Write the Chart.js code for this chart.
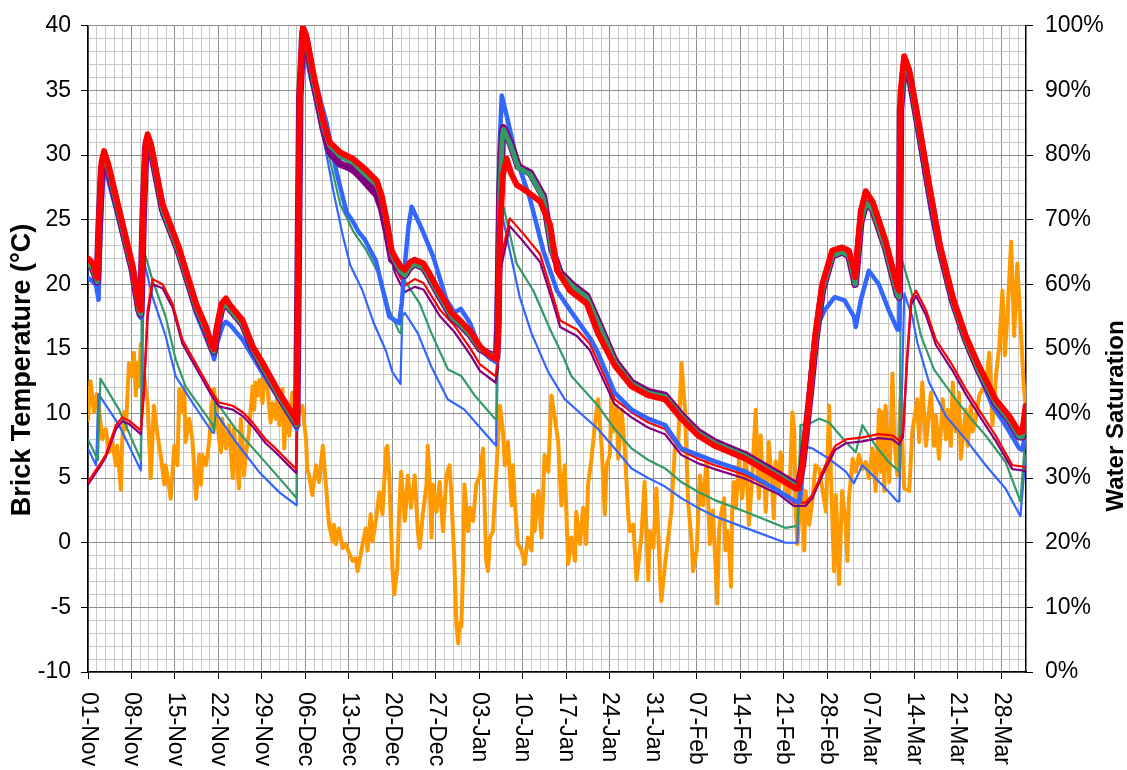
<!DOCTYPE html>
<html>
<head>
<meta charset="utf-8">
<script src="https://cdn.jsdelivr.net/npm/chart.js@4.4.0/dist/chart.umd.min.js"></script>
<style>
  html, body { margin: 0; padding: 0; background: #fff; }
  #wrap { width: 1127px; height: 770px; position: relative; }
</style>
</head>
<body>
<div id="wrap"><canvas id="brickChart"></canvas></div>
<script>
// x values are days counted from 01-Nov
const tickDays = [0, 7, 14, 21, 28, 35, 42, 49, 56, 63, 70, 77, 84, 91, 98, 105, 112, 119, 126, 133, 140, 147];
const tickLabels = ['01-Nov', '08-Nov', '15-Nov', '22-Nov', '29-Nov', '06-Dec', '13-Dec', '20-Dec', '27-Dec',
  '03-Jan', '10-Jan', '17-Jan', '24-Jan', '31-Jan', '07-Feb', '14-Feb', '21-Feb', '28-Feb',
  '07-Mar', '14-Mar', '21-Mar', '28-Mar'];

// brick temperature (left axis, degC)
const tempDays = [
  0, 0.4, 0.97, 1.4, 1.8, 2.3, 2.85, 3.4, 3.9, 4.5,
  4.7, 5.3, 5.5, 5.8, 6.1, 6.6, 7.1, 7.4, 7.7, 7.95,
  8.2, 8.5, 9.0, 9.6, 10.1, 10.6, 11.2, 11.7, 12.3, 12.5,
  13.1, 13.3, 13.9, 14.4, 14.7, 15.2, 15.5, 15.7, 16.3, 16.8,
  17.4, 17.9, 18.2, 18.4, 19.0, 19.5, 20.0, 20.3, 20.6, 21.1,
  21.4, 21.6, 22.2, 22.7, 23.3, 23.5, 24.1, 24.3, 24.6, 24.9,
  25.1, 25.4, 25.9, 26.5, 26.75, 27.0, 27.3, 27.6, 28.1, 28.4,
  28.9, 29.4, 29.7, 30.2, 30.5, 30.8, 31.3, 31.6, 31.85, 32.4,
  32.9, 33.5, 34.0, 34.5, 35.1, 35.3, 35.6, 36.1, 36.7, 37.2,
  37.8, 38.3, 38.8, 39.4, 39.6, 39.9, 40.4, 41.0, 41.5, 42.1,
  42.6, 43.1, 43.4, 43.9, 44.7, 45.0, 45.5, 45.8, 46.4, 46.9,
  47.4, 48.0, 48.2, 48.5, 48.8, 49.0, 49.3, 49.8, 50.1, 50.4,
  51.0, 51.5, 52.0, 52.6, 53.1, 53.4, 53.9, 54.5, 54.7, 55.0,
  55.3, 55.5, 56.1, 56.6, 57.15, 57.7, 58.2, 58.5, 59.0, 59.3,
  59.6, 59.8, 60.1, 60.4, 60.6, 61.2, 61.5, 62.0, 62.5, 63.1,
  63.6, 64.1, 64.4, 64.7, 65.2, 65.7, 66.3, 66.8, 67.1, 67.6,
  68.2, 68.4, 68.7, 69.2, 69.8, 70.3, 70.8, 71.4, 71.65, 71.9,
  72.5, 73.0, 73.5, 74.1, 74.6, 75.1, 75.7, 76.2, 76.75, 77.3,
  77.8, 78.4, 78.6, 79.2, 79.7, 80.2, 80.5, 81.05, 81.6, 82.1,
  82.7, 83.2, 83.5, 84.0, 84.3, 84.5, 85.1, 85.35, 85.9, 86.4,
  87.0, 87.2, 87.8, 88.3, 88.6, 89.1, 89.6, 90.2, 90.45, 91.0,
  91.5, 92.1, 92.3, 92.9, 93.4, 93.9, 94.5, 95.0, 95.55, 96.1,
  96.6, 97.2, 97.4, 98.0, 98.5, 99.0, 99.6, 100.1, 100.6, 101.3,
  101.6, 101.8, 102.4, 102.6, 102.9, 103.2, 103.5, 103.7, 104.0, 104.3,
  104.8, 105.3, 105.9, 106.4, 106.9, 107.5, 107.75, 108.0, 108.3, 108.6,
  108.8, 109.1, 109.6, 110.2, 110.4, 110.7, 111.2, 111.5, 111.8, 112.3,
  112.9, 113.4, 113.7, 113.9, 114.2, 114.5, 115.0, 115.3, 115.5, 116.1,
  116.6, 117.1, 117.7, 118.2, 118.8, 119.3, 119.6, 120.1, 120.4, 120.9,
  121.4, 122.0, 122.25, 122.5, 123.1, 123.6, 124.1, 124.7, 125.2, 125.7,
  126.3, 126.8, 127.35, 127.6, 127.9, 128.2, 128.4, 129.0, 129.5, 129.8,
  130.3, 130.8, 131.4, 132.2, 132.7, 133.5, 133.8, 134.3, 134.9, 135.4,
  135.7, 136.2, 136.5, 137.0, 137.6, 138.1, 138.4, 138.9, 139.2, 139.7,
  140.2, 140.5, 141.3, 141.6, 142.1, 142.4, 142.9, 143.5, 144.0, 144.5,
  145.1, 145.6, 146.2, 146.7, 147.2, 147.6, 148.0, 148.6, 149.1, 149.6,
  150.2, 150.6, 150.95
];
const tempValues = [
  9.5, 12.5, 10.1, 11.5, 10.3, 8.0, 8.8, 7.0, 7.8, 6.0,
  7.5, 4.1, 7.8, 10.1, 8.8, 13.9, 12.9, 14.7, 11.4, 13.9,
  12.1, 15.4, 12.9, 10.8, 5.0, 10.6, 8.3, 6.8, 4.5, 6.0,
  4.2, 3.4, 7.5, 6.0, 11.9, 10.1, 12.1, 7.8, 9.6, 8.0,
  3.4, 6.8, 4.5, 6.8, 6.0, 7.8, 10.8, 11.9, 10.6, 8.0,
  7.0, 9.6, 7.3, 9.1, 5.0, 8.8, 5.7, 4.2, 9.6, 7.3,
  5.2, 6.8, 8.5, 12.1, 10.3, 12.4, 11.4, 12.6, 10.8, 13.7,
  11.9, 9.3, 10.8, 9.6, 11.6, 9.1, 11.9, 7.3, 10.3, 8.3,
  11.6, 9.1, 10.1, 10.6, 8.0, 5.7, 5.2, 3.7, 6.0, 4.7,
  7.5, 4.5, 1.4, 0.1, 1.4, -0.1, 1.1, -0.4, -0.1, -0.9,
  -1.4, -1.2, -2.2, -0.9, 1.1, -0.6, 2.2, 0.1, 1.9, 3.9,
  2.2, 7.3, 7.5, 5.2, 1.1, -1.9, -4.0, -1.9, 2.5, 5.5,
  1.7, 5.2, 2.7, 5.2, 0.9, -0.4, 2.2, 4.5, 7.5, 4.7,
  0.4, 4.5, 2.4, 4.7, 0.9, 5.2, 6.0, 3.7, -1.65, -6.25,
  -7.8, -6.25, -6.5, -1.65, 4.5, 0.9, 2.7, 1.7, 4.5, 5.2,
  7.3, -1.4, -2.2, 0.4, 0.9, 5.2, 10.6, 8.6, 6.0, 7.8,
  2.9, 6.0, 3.2, -0.1, -0.6, -1.65, 0.4, -0.6, 3.7, 0.9,
  4.0, 0.4, 6.8, 5.5, 11.4, 9.8, 7.8, 2.9, 6.0, -1.65,
  0.4, -1.4, 2.4, -0.1, 2.7, -0.1, 4.5, 6.5, 9.1, 11.1,
  7.3, 2.2, 6.0, 6.8, 11.6, 8.6, 10.6, 6.5, 10.3, 7.3,
  1.9, 0.9, 1.4, -2.9, -1.65, 0.6, 4.7, -2.9, 0.9, -0.4,
  4.2, -2.7, -4.5, -1.65, 0.4, 2.4, 7.5, 7.5, 13.9, 10.3,
  3.2, -0.1, -2.2, -0.6, 5.2, 2.9, 6.5, -0.1, 2.5, -4.7,
  0.9, 1.9, 3.45, -0.6, 0.9, -0.1, -3.4, 2.4, 4.7, 2.7,
  6.5, 3.45, 7.0, 1.4, 5.0, 10.3, 6.0, 3.45, 8.3, 4.5,
  6.0, 2.4, 7.8, 3.7, 1.9, 6.3, 4.0, 7.0, 5.0, 4.2,
  3.45, 10.1, 8.6, 2.7, -0.1, 1.9, 4.2, -0.6, 4.0, 1.4,
  3.2, 6.0, 5.7, 4.2, 2.4, 10.6, 5.2, -2.2, 3.7, -3.2,
  4.0, 1.4, -1.4, 3.45, 6.5, 5.5, 6.8, 5.7, 6.25, 5.0,
  7.3, 4.0, 10.3, 5.5, 10.1, 4.0, 10.6, 4.7, 13.1, 8.0,
  5.2, 11.1, 4.2, 4.0, 8.6, 11.1, 7.8, 12.4, 7.5, 10.3,
  11.6, 7.5, 9.8, 6.5, 11.1, 8.0, 10.3, 7.5, 12.4, 8.6,
  11.6, 6.5, 10.3, 7.5, 10.6, 8.6, 9.6, 11.4, 11.9, 12.1,
  14.7, 9.1, 13.1, 15.2, 19.5, 14.5, 17.5, 23.3, 16.0, 21.6,
  16.2, 12.5, 10.5
];

// water saturation (right axis, %)
const redDays = [
  0, 0.8, 1.5, 1.8, 2.2, 2.6, 3.2, 5.0, 7.15, 8.2,
  8.5, 8.9, 9.3, 9.6, 10.1, 12.0, 14.6, 17.4, 19.0, 20.0,
  20.3, 20.8, 21.5, 22.2, 23.0, 24.9, 26.5, 28.0, 30.9, 33.4,
  33.6, 33.8, 34.1, 34.6, 35.1, 36.2, 37.9, 38.9, 40.6, 42.7,
  44.85, 46.5, 47.3, 48.1, 48.9, 49.4, 50.3, 51.0, 51.8, 52.6,
  54.0, 55.0, 56.1, 57.7, 58.5, 59.9, 61.5, 63.1, 64.6, 65.8,
  66.0, 66.3, 66.8, 67.4, 68.1, 69.0, 70.6, 72.8, 74.4, 75.5,
  77.6, 80.3, 82.1, 84.8, 87.5, 90.2, 92.9, 95.5, 98.2, 100.9,
  105.85, 111.2, 113.9, 114.4, 115.0, 116.1, 117.1, 118.2, 119.8, 121.4,
  122.5, 123.3, 123.5, 124.4, 125.2, 126.3, 128.4, 130.3, 130.6, 130.8,
  131.4, 132.2, 133.8, 135.4, 137.1, 139.2, 141.3, 143.4, 146.1, 148.3,
  149.9, 150.4, 150.95
];
const redSat = [
  64.0, 63.2, 61.0, 70, 79, 80.6, 78.8, 71.6, 63.0, 56.8,
  56.0, 72, 82, 83.2, 81.8, 72.4, 65.8, 57.0, 53.4, 50.4,
  50.0, 53.6, 57.0, 57.8, 56.6, 54.4, 50.4, 48.0, 43.0, 39.2,
  38.6, 60, 90, 99.8, 98.6, 93.0, 85.2, 82.0, 80.4, 79.4,
  77.6, 76.0, 73.6, 69.8, 65.2, 64.2, 62.8, 62.2, 63.4, 63.8,
  63.2, 61.6, 59.6, 57.0, 55.6, 54.4, 52.8, 50.4, 49.0, 48.4,
  52, 68, 77, 79.4, 77.2, 75.4, 74.4, 72.8, 69.2, 62.2,
  59.0, 57.0, 52.4, 47.4, 44.2, 42.8, 42.2, 39.2, 36.6, 35.0,
  33.0, 30.0, 28.4, 28.4, 32.0, 42.2, 52.4, 60.0, 65.2, 65.7,
  65.2, 62.2, 61.1, 71.3, 74.4, 72.8, 66.7, 59.6, 59.0, 89.6,
  95.3, 93.2, 84.6, 75.4, 66.2, 58.0, 52.0, 47.4, 42.2, 39.6,
  37.1, 37.2, 41.2
];

const greenDays = [
  0, 0.8, 1.5, 1.8, 2.2, 2.6, 3.2, 5.0, 7.15, 8.2,
  8.5, 8.9, 9.3, 9.6, 10.1, 12.0, 14.6, 17.4, 19.0, 20.0,
  20.3, 20.8, 21.5, 22.2, 23.0, 24.9, 26.5, 28.0, 30.9, 33.4,
  33.6, 33.8, 34.1, 34.6, 35.1, 36.2, 37.9, 38.9, 40.6, 42.7,
  44.85, 46.5, 47.3, 48.1, 48.9, 49.4, 50.3, 51.0, 51.8, 52.6,
  54.0, 55.0, 56.1, 57.7, 58.5, 59.9, 61.5, 63.1, 64.6, 65.8,
  66.0, 66.3, 66.7, 66.9, 68.0, 69.3, 71.2, 73.3, 74.7, 76.0,
  78.1, 80.3, 82.4, 84.8, 87.5, 90.2, 92.9, 95.5, 98.2, 100.9,
  105.85, 111.2, 113.9, 114.4, 115.0, 116.1, 117.1, 118.2, 119.8, 121.4,
  122.5, 123.3, 123.5, 124.4, 125.2, 126.3, 128.4, 130.3, 130.6, 130.8,
  131.4, 132.2, 133.8, 135.4, 137.1, 139.2, 141.3, 143.4, 146.1, 148.3,
  149.9, 150.4, 150.95
];
const greenSat = [
  63.2, 62.4, 60.4, 69.0, 78.0, 79.6, 78.0, 70.8, 62.2, 56.0,
  55.4, 71.0, 81.2, 82.4, 81.0, 71.6, 65.0, 56.4, 52.8, 50.0,
  49.6, 53.0, 56.2, 57.0, 56.0, 53.8, 50.0, 47.4, 42.4, 38.6,
  38.2, 59.0, 89.0, 99.0, 98.0, 92.0, 84.4, 81.5, 79.8, 78.8,
  76.8, 75.4, 73.0, 69.2, 64.6, 63.6, 62.0, 61.4, 62.6, 63.2,
  62.6, 61.0, 59.0, 56.4, 55.0, 53.8, 52.2, 50.0, 49.2, 48.8,
  54.0, 74.0, 83.0, 84.0, 81.6, 78.0, 77.0, 73.4, 65.2, 61.6,
  59.6, 58.0, 53.4, 48.0, 44.6, 43.2, 42.6, 39.6, 37.0, 35.4,
  33.4, 30.4, 28.8, 28.8, 32.0, 41.6, 51.0, 59.0, 64.4, 65.0,
  64.4, 61.0, 60.0, 69.6, 72.6, 71.6, 65.6, 58.4, 58.0, 87.0,
  94.0, 92.4, 83.6, 74.6, 65.6, 57.4, 51.4, 46.6, 41.6, 39.0,
  36.4, 36.4, 39.4
];
// purple series shares the green time stamps
const purpleSat = [
  63.2, 62.4, 60.4, 69.0, 78.0, 79.6, 78.0, 70.8, 62.2, 56.0,
  55.4, 71.0, 81.2, 82.4, 81.0, 71.6, 65.0, 56.4, 52.8, 50.0,
  49.6, 53.0, 56.2, 57.0, 56.0, 53.8, 50.0, 47.4, 42.4, 38.6,
  38.2, 59.0, 89.0, 99.0, 98.0, 92.0, 84.0, 80.5, 78.6, 77.8,
  75.6, 73.8, 71.6, 68.0, 63.8, 63.4, 62.0, 61.4, 62.6, 63.2,
  62.6, 61.0, 59.0, 56.4, 55.0, 53.8, 52.2, 50.0, 49.2, 48.8,
  54.0, 74.0, 83.2, 84.2, 81.8, 78.2, 77.2, 73.6, 65.4, 61.8,
  59.8, 58.2, 53.6, 48.2, 44.8, 43.4, 42.8, 39.8, 37.2, 35.6,
  33.6, 30.6, 29.0, 29.0, 32.0, 41.6, 51.0, 59.0, 64.4, 65.0,
  64.4, 61.0, 60.0, 69.6, 72.6, 71.6, 65.6, 58.4, 58.0, 87.0,
  94.0, 92.4, 83.6, 74.6, 65.6, 57.4, 51.4, 46.6, 41.6, 39.0,
  36.4, 36.4, 39.4
];

const blueDays = [
  0, 0.8, 1.3, 1.7, 2.0, 2.4, 2.8, 3.3, 5.0, 7.15,
  8.2, 8.5, 8.9, 9.3, 9.6, 10.1, 12.0, 14.7, 17.4, 20.0,
  20.3, 20.8, 21.7, 22.2, 23.0, 24.9, 28.0, 30.9, 33.4, 33.6,
  33.8, 34.1, 34.6, 35.1, 36.2, 38.4, 40.0, 41.6, 42.6, 43.5,
  44.5, 46.35, 47.5, 48.5, 50.1, 50.5, 51.0, 51.6, 52.1, 53.9,
  55.6, 57.7, 59.0, 60.0, 61.5, 63.1, 64.6, 65.6, 65.9, 66.2,
  66.6, 67.4, 69.0, 71.1, 73.3, 75.5, 77.6, 81.0, 82.1, 84.8,
  87.5, 90.2, 92.9, 95.5, 98.2, 100.9, 105.85, 111.2, 113.9, 114.6,
  115.5, 116.5, 117.6, 118.6, 120.2, 121.8, 123.3, 123.6, 124.4, 125.7,
  127.3, 128.9, 130.3, 130.6, 130.9, 131.4, 132.2, 133.8, 135.9, 138.1,
  140.8, 142.4, 145.6, 147.7, 149.9, 150.4, 150.95
];
const blueSat = [
  61.0, 60.4, 59.8, 57.6, 68, 76, 77.4, 76.0, 69.8, 61.6,
  55.2, 54.8, 72, 81, 82.4, 80.6, 70.8, 64.6, 55.5, 49.4,
  48.4, 51.0, 53.6, 54.2, 53.6, 51.4, 46.4, 42.0, 38.0, 37.6,
  60, 88, 98.6, 97.6, 92.8, 85.0, 77.4, 71.2, 69.8, 68.2,
  67.0, 63.6, 59.0, 55.0, 54.0, 57.0, 63.0, 69.0, 72.0, 68.2,
  64.2, 57.6, 55.6, 56.2, 54.0, 50.0, 48.6, 48.0, 60, 80,
  89.2, 86.1, 79.4, 73.4, 65.2, 59.0, 56.0, 51.4, 49.4, 43.2,
  40.6, 39.2, 38.2, 34.6, 33.6, 32.6, 31.0, 28.0, 26.4, 26.4,
  36, 48, 54.0, 56.0, 58.0, 57.5, 55.0, 53.4, 57.5, 62.1,
  60.0, 56.0, 53.0, 53.0, 86, 93.8, 92.0, 82.6, 70.2, 61.1,
  52.4, 48.4, 41.2, 38.2, 34.6, 34.4, 37.1
];

const thinRedDays = [
  0, 1.8, 2.85, 4.5, 5.5, 6.6, 8.5, 9.0, 9.6, 10.4,
  12.0, 13.6, 15.2, 17.9, 20.0, 21.1, 23.3, 24.9, 26.5, 28.6,
  30.2, 31.85, 33.5, 33.8, 34.2, 34.7, 36.2, 38.9, 43.2, 46.5,
  48.1, 49.4, 50.3, 51.0, 52.6, 54.0, 56.7, 59.0, 61.6, 63.1,
  65.6, 66.0, 66.5, 67.9, 70.1, 72.8, 74.9, 76.0, 78.7, 80.8,
  82.2, 84.8, 87.5, 90.2, 92.9, 95.5, 98.2, 100.9, 105.85, 111.2,
  113.6, 115.5, 116.6, 118.7, 120.3, 122.0, 124.65, 127.3, 129.5, 130.6,
  131.2, 131.8, 132.5, 133.3, 134.9, 136.5, 139.2, 141.3, 143.4, 146.1,
  148.8, 150.4, 150.95
];
const thinRedSat = [
  29.4, 32.0, 33.6, 38.2, 39.4, 38.9, 37.4, 44, 56, 60.8,
  60.0, 57.0, 51.4, 46.8, 43.2, 41.7, 41.2, 40.2, 38.6, 36.0,
  34.6, 33.0, 31.4, 56, 88, 98.6, 91.6, 81.0, 78.0, 74.6,
  68.0, 62.8, 61.0, 59.8, 60.8, 60.2, 56.0, 53.6, 50.0, 47.6,
  45.8, 48, 64, 70.2, 67.8, 64.6, 58.0, 54.4, 53.0, 50.8,
  47.8, 42.2, 40.2, 38.6, 37.6, 34.3, 33.0, 32.0, 30.5, 28.0,
  26.2, 26.2, 27.4, 32.0, 35.0, 36.0, 36.3, 36.8, 36.6, 35.8,
  37.0, 48, 57.6, 59.0, 56.0, 51.4, 47.4, 43.8, 40.6, 36.6,
  32.0, 31.8, 31.6
];
// thin purple shares the thin red time stamps
const thinPurpleSat = [
  29.0, 31.6, 33.2, 37.6, 38.8, 38.4, 36.8, 43, 55, 60.0,
  59.4, 56.4, 50.8, 46.2, 42.6, 41.1, 40.6, 39.6, 38.0, 35.4,
  34.0, 32.4, 30.8, 55, 87, 98.0, 90.6, 79.8, 76.8, 73.4,
  67.0, 61.8, 60.0, 58.8, 59.6, 59.2, 55.0, 52.6, 49.0, 46.6,
  44.8, 47, 62.6, 69.0, 66.6, 63.4, 57.0, 53.4, 52.0, 49.8,
  46.8, 41.4, 39.4, 37.8, 36.8, 33.6, 32.3, 31.4, 29.9, 27.5,
  25.7, 25.7, 26.9, 31.4, 34.4, 35.4, 35.7, 36.2, 36.0, 35.2,
  36.4, 47, 56.8, 58.2, 55.2, 50.6, 46.6, 43.0, 39.8, 35.8,
  31.4, 31.2, 31.0
];

const thinGreenDays = [
  0, 1.6, 2.0, 5.0, 8.5, 8.76, 10.4, 12.5, 14.1, 15.7,
  20.0, 20.3, 20.5, 23.8, 27.5, 30.8, 33.6, 33.8, 34.2, 34.6,
  35.3, 37.9, 40.6, 42.7, 44.85, 47.0, 48.5, 50.1, 50.4, 50.7,
  53.4, 55.3, 57.95, 60.1, 62.25, 65.5, 65.8, 66.3, 66.9, 69.0,
  71.7, 74.4, 76.5, 77.8, 82.1, 84.8, 87.5, 90.2, 92.9, 95.5,
  98.2, 100.9, 105.85, 112.3, 114.2, 114.7, 116.1, 117.7, 119.3, 122.0,
  123.6, 124.65, 126.8, 128.9, 130.6, 130.9, 132.5, 134.1, 136.2, 139.2,
  141.8, 144.5, 147.7, 150.1, 150.95
];
const thinGreenSat = [
  36.0, 32.8, 45.4, 40.6, 32.8, 66.0, 60.6, 55.0, 48.4, 44.2,
  38.4, 37.2, 42.0, 37.6, 33.6, 30.0, 26.9, 60, 92, 97.6,
  94.0, 83.6, 72.4, 68.2, 65.2, 61.2, 56.0, 52.6, 52.4, 61.0,
  57.0, 52.4, 46.8, 45.8, 42.8, 39.2, 39.2, 64, 72.0, 63.2,
  59.0, 53.0, 48.8, 45.8, 41.2, 37.6, 34.6, 32.8, 31.5, 29.4,
  27.9, 26.6, 24.8, 22.3, 22.6, 38.2, 38.4, 39.2, 38.6, 35.6,
  34.0, 38.2, 35.0, 32.5, 31.0, 64.2, 59.0, 52.0, 46.8, 42.8,
  39.6, 36.6, 32.5, 26.4, 37.1
];

const thinBlueDays = [
  0, 1.3, 1.7, 5.0, 8.5, 9.0, 10.4, 12.5, 14.1, 16.8,
  20.0, 20.3, 20.5, 23.8, 27.5, 30.8, 33.6, 33.8, 34.2, 34.6,
  36.25, 37.9, 39.5, 41.0, 42.2, 44.2, 46.0, 48.0, 49.0, 50.3,
  50.6, 51.0, 53.1, 55.2, 57.9, 60.6, 63.3, 65.7, 65.9, 66.6,
  67.9, 69.5, 71.4, 74.1, 76.75, 82.1, 84.8, 87.5, 90.2, 92.9,
  95.5, 98.2, 100.9, 105.85, 112.3, 114.2, 114.7, 116.6, 119.3, 122.0,
  123.3, 124.65, 126.25, 128.4, 130.3, 130.6, 131.4, 132.7, 133.5, 135.4,
  138.1, 141.3, 144.5, 147.7, 150.1, 150.95
];
const thinBlueSat = [
  34.6, 32.0, 43.0, 38.2, 31.2, 63.6, 58.0, 52.0, 45.8, 41.7,
  37.1, 37.0, 40.2, 35.6, 31.0, 27.8, 25.8, 60, 90, 96.6,
  89.6, 82.6, 74.4, 67.6, 63.0, 59.0, 54.0, 49.6, 46.4, 44.6,
  55.0, 55.6, 52.4, 47.4, 42.2, 40.6, 37.6, 35.0, 60, 71.0,
  65.2, 58.0, 52.4, 46.4, 42.2, 37.6, 34.6, 31.5, 30.0, 28.7,
  26.9, 25.4, 24.1, 22.3, 20.0, 20.0, 35.0, 34.6, 33.0, 31.0,
  29.2, 32.0, 30.5, 28.4, 26.4, 26.4, 58.6, 55.0, 51.0, 44.8,
  39.6, 36.0, 32.0, 28.4, 24.1, 33.6
];

// grid: x minor every 1.4 days, major every 7; y minor every 1, major every 5
const xGrid = Array.from({ length: 108 }, (_, i) => Math.round(i * 14) / 10);
const yGrid = Array.from({ length: 51 }, (_, i) => i - 10);
const y1Grid = [0, 10, 20, 30, 40, 50, 60, 70, 80, 90, 100];

const FONT = 'Arial, "Liberation Sans", Helvetica, sans-serif';
const MAJOR = '#8e8e8e';
const MINOR = '#c8c8c8';
const isWeek = v => Math.abs(v / 7 - Math.round(v / 7)) < 1e-6;

const pts = (xs, ys) => xs.map((x, i) => ({ x: x, y: ys[i] }));

function line(label, xs, ys, color, width, axis) {
  return {
    label: label,
    data: pts(xs, ys),
    yAxisID: axis,
    borderColor: color,
    borderWidth: width,
    pointRadius: 0,
    tension: 0,
    fill: false,
    borderJoinStyle: 'round',
    borderCapStyle: 'round'
  };
}

// x tick labels (rotated clockwise) and both axis titles
const labelPlugin = {
  id: 'extraLabels',
  afterDraw(chart) {
    const ctx = chart.ctx;
    const xs = chart.scales.x;
    ctx.save();
    ctx.fillStyle = '#000';
    ctx.font = '23px ' + FONT;
    ctx.textAlign = 'left';
    ctx.textBaseline = 'middle';
    tickDays.forEach((d, i) => {
      ctx.save();
      ctx.translate(xs.getPixelForValue(d), xs.top + 20);
      ctx.rotate(Math.PI / 2);
      ctx.fillText(tickLabels[i], 0, 0);
      ctx.restore();
    });

    ctx.textAlign = 'center';
    ctx.font = 'bold 27px ' + FONT;
    ctx.save();
    ctx.translate(23, 370);
    ctx.rotate(-Math.PI / 2);
    ctx.fillText('Brick Temperature (\u00B0C)', 0, 0);
    ctx.restore();

    ctx.font = 'bold 24px ' + FONT;
    ctx.save();
    ctx.translate(1116, 416);
    ctx.rotate(-Math.PI / 2);
    ctx.fillText('Water Saturation', 0, 0);
    ctx.restore();
    ctx.restore();
  }
};

const ctx = document.getElementById('brickChart').getContext('2d');

const brickChart = new Chart(ctx, {
  type: 'line',
  data: {
    datasets: [
      line('Saturation A', redDays, redSat, '#FF0000', 6, 'y1'),
      line('Saturation B', greenDays, greenSat, '#339966', 5, 'y1'),
      line('Saturation C', greenDays, purpleSat, '#800080', 7.5, 'y1'),
      line('Saturation D', blueDays, blueSat, '#3366FF', 4.5, 'y1'),
      line('Saturation E', thinRedDays, thinRedSat, '#FF0000', 2.2, 'y1'),
      line('Saturation F', thinRedDays, thinPurpleSat, '#800080', 2.2, 'y1'),
      line('Saturation G', thinGreenDays, thinGreenSat, '#339966', 2.2, 'y1'),
      line('Saturation H', thinBlueDays, thinBlueSat, '#3366FF', 2.2, 'y1'),
      line('Brick Temperature', tempDays, tempValues, '#FF9900', 4, 'y')
    ]
  },
  options: {
    responsive: true,
    maintainAspectRatio: false,
    animation: false,
    layout: { padding: { top: 19, left: 0, right: 0, bottom: 0 } },
    plugins: {
      legend: { display: false },
      tooltip: { enabled: false }
    },
    scales: {
      x: {
        type: 'linear',
        min: 0,
        max: 151,
        afterBuildTicks: s => { s.ticks = xGrid.map(v => ({ value: v })); },
        afterFit: s => { s.height = 98; },
        ticks: { display: false },
        grid: {
          color: c => isWeek(c.tick.value) ? MAJOR : MINOR,
          tickColor: c => isWeek(c.tick.value) ? '#000' : 'rgba(0,0,0,0)',
          tickLength: 7,
          lineWidth: 1
        },
        border: { color: '#000', width: 1.5 }
      },
      y: {
        position: 'left',
        min: -10,
        max: 40,
        afterBuildTicks: s => { s.ticks = yGrid.map(v => ({ value: v })); },
        afterFit: s => { s.width = 88; },
        ticks: {
          autoSkip: false,
          padding: 10,
          color: '#000',
          font: { family: FONT, size: 23 },
          callback: v => (v % 5 === 0 ? String(v) : '')
        },
        grid: {
          color: c => (c.tick.value % 5 === 0 ? MAJOR : MINOR),
          tickColor: c => (c.tick.value % 5 === 0 ? '#000' : 'rgba(0,0,0,0)'),
          tickLength: 7,
          lineWidth: 1
        },
        border: { color: '#000', width: 1.5 }
      },
      y1: {
        position: 'right',
        min: 0,
        max: 100,
        afterBuildTicks: s => { s.ticks = y1Grid.map(v => ({ value: v })); },
        afterFit: s => { s.width = 101; },
        ticks: {
          autoSkip: false,
          padding: 12,
          color: '#000',
          font: { family: FONT, size: 23 },
          callback: v => v + '%'
        },
        grid: { drawOnChartArea: false, tickColor: '#000', tickLength: 7 },
        border: { color: '#000', width: 1.5 }
      }
    }
  },
  plugins: [labelPlugin]
});
</script>
</body>
</html>
